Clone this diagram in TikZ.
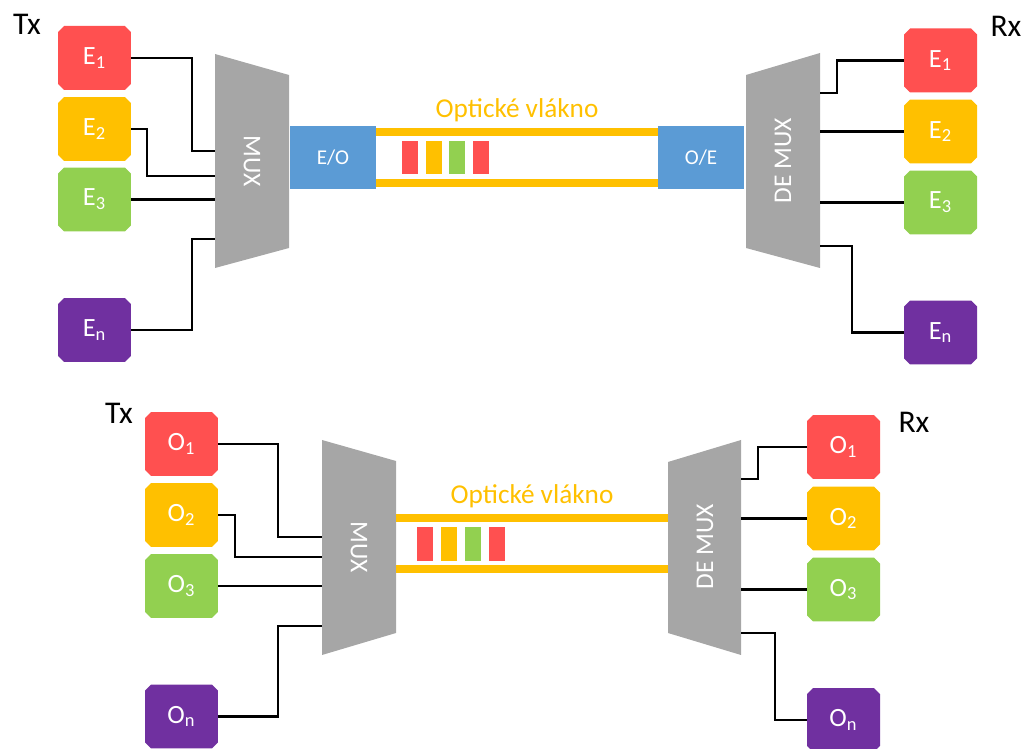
\documentclass[tikz,border=0pt]{standalone}
\usepackage{fontspec}
\setmainfont{Carlito}
\usetikzlibrary{shapes.misc}
\definecolor{cRed}{HTML}{FF5050}
\definecolor{cOrange}{HTML}{FFC000}
\definecolor{cGreen}{HTML}{92D050}
\definecolor{cPurple}{HTML}{7030A0}
\definecolor{cBlue}{HTML}{5B9BD5}
\definecolor{cGrey}{HTML}{A6A6A6}
\begin{document}
\begin{tikzpicture}[x=0.02cm, y=-0.02cm,
	chan/.style={chamfered rectangle, chamfered rectangle xsep=0.06cm, chamfered rectangle ysep=0.06cm,
		minimum width=1.46cm, minimum height=1.28cm, inner sep=0pt, text=white,
		font=\fontsize{15}{17}\selectfont},
	conv/.style={fill=cBlue, minimum width=1.72cm, minimum height=1.26cm, inner sep=0pt, text=white,
		font=\fontsize{12}{14}\selectfont},
	muxText/.style={text=white, font=\fontsize{14.5}{16}\selectfont},
	wire/.style={line width=1.2pt},
	fiber/.style={cOrange, line width=4pt},
	side/.style={font=\fontsize{18}{20}\selectfont},
	fiberText/.style={cOrange, font=\fontsize{15.5}{18}\selectfont}
]
\useasboundingbox (0,0) rectangle (1025,749);

% Electrical channels
\node [side] (tx1) at (27,24) {Tx};
\node [chan, fill=cRed] (e1) at (94.5,58) {E\textsubscript{1}};
\node [chan, fill=cOrange] (e2) at (94.5,129) {E\textsubscript{2}};
\node [chan, fill=cGreen] (e3) at (94.5,199.5) {E\textsubscript{3}};
\node [chan, fill=cPurple] (en) at (94.5,330) {E\textsubscript{n}};

\fill[cGrey] (215,54) -- (289,75) -- (289,248) -- (215,268) -- cycle;
\node [muxText, rotate=-90] (mux1) at (252,161) {MUX};
\coordinate (m1a) at (215,151);
\coordinate (m1b) at (215,176);
\coordinate (m1d) at (215,239);

\draw[wire] (e1.east) -- ++(61,0) |- (m1a);
\draw[wire] (e2.east) -- ++(16,0) |- (m1b);
\draw[wire] (e3.east) -- (e3.east -| m1a);
\draw[wire] (en.east) -- ++(61,0) |- (m1d);

\node [conv] (eo) at (333,157.5) {E/O};
\node [conv] (oe) at (701,157.5) {O/E};
\draw[fiber] ([yshift=0.51cm]eo.east) -- ([yshift=0.51cm]oe.west);
\draw[fiber] ([yshift=-0.51cm]eo.east) -- ([yshift=-0.51cm]oe.west);
\node [fiberText] (vl1) at (517,110) {Optické vlákno};
\foreach \c [count=\i from 0] in {cRed,cOrange,cGreen,cRed}
	\fill[\c] (402+\i*23.7,141) rectangle ++(16,33);

\fill[cGrey] (746,75) -- (820,53) -- (820,268) -- (746,248) -- cycle;
\node [muxText, rotate=90] (dmx1) at (783,161) {DE MUX};
\coordinate (d1a) at (820,93);
\coordinate (d1d) at (820,246);

\node [side] (rx1) at (1006,26) {Rx};
\node [chan, fill=cRed] (r1) at (940.5,60.5) {E\textsubscript{1}};
\node [chan, fill=cOrange] (r2) at (940.5,131.5) {E\textsubscript{2}};
\node [chan, fill=cGreen] (r3) at (940.5,202.5) {E\textsubscript{3}};
\node [chan, fill=cPurple] (rn) at (940.5,332.5) {E\textsubscript{n}};

\draw[wire] (d1a) -- ++(17,0) |- (r1.west);
\draw[wire] (r2.west) -- (r2.west -| d1a);
\draw[wire] (r3.west) -- (r3.west -| d1a);
\draw[wire] (d1d) -- ++(32,0) |- (rn.west);

% Optical channels
\node [side] (tx2) at (119,413) {Tx};
\node [chan, fill=cRed] (o1) at (181.5,444) {O\textsubscript{1}};
\node [chan, fill=cOrange] (o2) at (181.5,515) {O\textsubscript{2}};
\node [chan, fill=cGreen] (o3) at (181.5,586) {O\textsubscript{3}};
\node [chan, fill=cPurple] (on) at (181.5,716.5) {O\textsubscript{n}};

\fill[cGrey] (322,440) -- (396,461) -- (396,633) -- (322,655) -- cycle;
\node [muxText, rotate=-90] (mux2) at (359,547) {MUX};
\coordinate (m2a) at (322,537);
\coordinate (m2b) at (322,557);
\coordinate (m2d) at (322,626);

\draw[wire] (o1.east) -- ++(60,0) |- (m2a);
\draw[wire] (o2.east) -- ++(17,0) |- (m2b);
\draw[wire] (o3.east) -- (o3.east -| m2a);
\draw[wire] (on.east) -- ++(60,0) |- (m2d);

\coordinate (f2a) at (396,518);
\coordinate (f2b) at (396,569);
\coordinate (g2a) at (668,518);
\coordinate (g2b) at (668,569);
\draw[fiber] (f2a) -- (g2a);
\draw[fiber] (f2b) -- (g2b);
\node [fiberText] (vl2) at (532,496) {Optické vlákno};
\foreach \c [count=\i from 0] in {cRed,cOrange,cGreen,cRed}
	\fill[\c] (417+\i*24,527) rectangle ++(16,34);

\fill[cGrey] (668,462) -- (741,440) -- (741,655) -- (668,633) -- cycle;
\node [muxText, rotate=90] (dmx2) at (705,547) {DE MUX};
\coordinate (d2a) at (741,479);
\coordinate (d2d) at (741,633);

\node [side] (rx2) at (914,422) {Rx};
\node [chan, fill=cRed] (q1) at (843.5,447) {O\textsubscript{1}};
\node [chan, fill=cOrange] (q2) at (843.5,518.5) {O\textsubscript{2}};
\node [chan, fill=cGreen] (q3) at (843.5,589.5) {O\textsubscript{3}};
\node [chan, fill=cPurple] (qn) at (843.5,720) {O\textsubscript{n}};

\draw[wire] (d2a) -- ++(17,0) |- (q1.west);
\draw[wire] (q2.west) -- (q2.west -| d2a);
\draw[wire] (q3.west) -- (q3.west -| d2a);
\draw[wire] (d2d) -- ++(34,0) |- (qn.west);
\end{tikzpicture}
\end{document}
